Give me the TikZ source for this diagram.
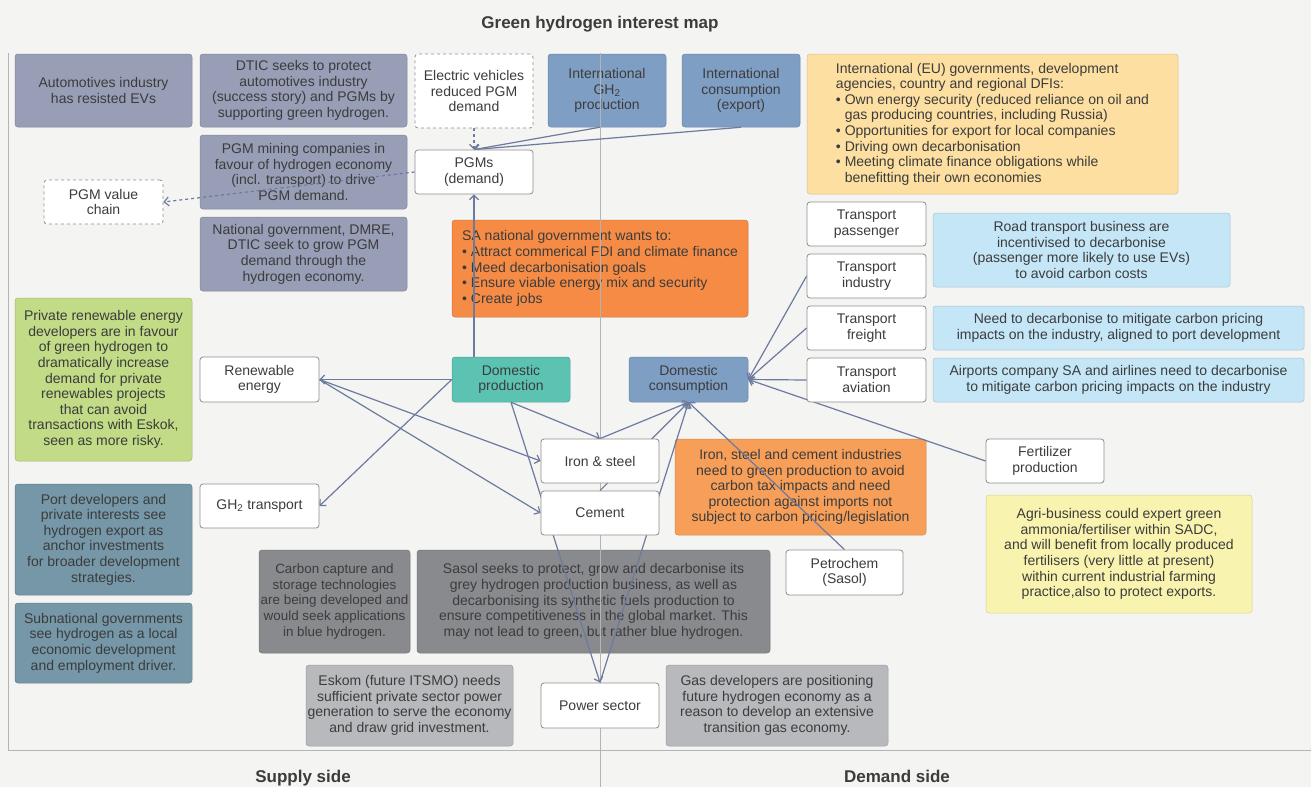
\documentclass[tikz,border=0pt]{standalone}
\usepackage{fontspec}
\setmainfont{Liberation Sans}
\usepackage{tikz}
\usetikzlibrary{arrows.meta}

\definecolor{bgcol}{HTML}{F4F4F2}
\definecolor{txt}{HTML}{3C3C3C}
\definecolor{edge}{HTML}{8E8E8E}
\definecolor{framecol}{HTML}{B4B4B4}
\definecolor{linkcol}{HTML}{6C7A9D}
\definecolor{pgmcol}{HTML}{989EB6}
\definecolor{intlcol}{HTML}{7F9EC3}
\definecolor{eucol}{HTML}{FDDFA1}
\definecolor{govcol}{HTML}{F58B45}
\definecolor{roadcol}{HTML}{C4E6F7}
\definecolor{greencol}{HTML}{C1DB86}
\definecolor{tealcol}{HTML}{5CC3B3}
\definecolor{indcol}{HTML}{F79F59}
\definecolor{agricol}{HTML}{F8F4AF}
\definecolor{portcol}{HTML}{7597A7}
\definecolor{darkgrey}{HTML}{898A8E}
\definecolor{lightgrey}{HTML}{B8B9BD}

\newcommand{\boxfont}{\fontsize{14}{15.6}\selectfont}
\newcommand{\smallboxfont}{\fontsize{13.4}{15.6}\selectfont}
\newcommand{\headfont}{\fontsize{17}{20}\selectfont\bfseries}

\pgfdeclarelayer{front}
\pgfsetlayers{main,front}

\begin{document}
\begin{tikzpicture}[x=1pt,y=-1pt,>={Straight Barb[length=4.5pt,width=9pt]},
    box/.style={rectangle,rounded corners=3pt,align=center,inner sep=1pt,text=txt,font=\boxfont},
    sz/.style 2 args={minimum width=#1pt,minimum height=#2pt},
    wbox/.style={box,fill=white,draw=edge,line width=0.8pt},
    dashbox/.style={box,fill=white,draw=edge,line width=0.8pt,dashed},
    fillbox/.style={box,fill=#1,draw=#1!85!black,line width=0.5pt},
    frame/.style={draw=framecol,line width=0.8pt},
    head/.style={font=\headfont,text=txt,anchor=base},
    link/.style={->,draw=linkcol,line width=1.2pt}]

    \useasboundingbox (0,0) rectangle (1311,787);
    \fill[bgcol] (0,0) rectangle (1311,787);

    \node[head] (title) at (600,28) {Green hydrogen interest map};
    \node[head] (supply) at (303,782) {Supply side};
    \node[head] (demand) at (897,782) {Demand side};

    % PGM stakeholders
    \node[fillbox=pgmcol,sz={177}{73}] (auto) at (103.5,90.5) {Automotives industry\\has resisted EVs};
    \node[fillbox=pgmcol,sz={207}{73}] (dtic) at (303.5,90.5) {DTIC seeks to protect\\automotives industry\\(success story) and PGMs by\\supporting green hydrogen.};
    \node[fillbox=pgmcol,sz={207}{74}] (pgmmine) at (303.5,172) {PGM mining companies in\\favour of hydrogen economy\\(incl. transport) to drive\\PGM demand.};
    \node[fillbox=pgmcol,sz={207}{74}] (natgov) at (303.5,254) {National government, DMRE,\\DTIC seek to grow PGM\\demand through the\\hydrogen economy.};

    % international
    \node[fillbox=intlcol,sz={118}{73}] (intgh) at (607,90.5) {International\\GH\textsubscript{2}\\production};
    \node[fillbox=intlcol,sz={118}{73}] (intcons) at (741,90.5) {International\\consumption\\(export)};
    \node[fillbox=eucol,sz={371}{140},align=left] (eu) at (992.5,124) {International (EU) governments, development\\agencies, country and regional DFIs:\\• Own energy security (reduced reliance on oil and\\\phantom{• }gas producing countries, including Russia)\\• Opportunities for export for local companies\\• Driving own decarbonisation\\• Meeting climate finance obligations while\\\phantom{• }benefitting their own economies};
    \node[fillbox=govcol,sz={296}{97},align=left] (sagov) at (600,268.5) {SA national government wants to:\\• Attract commerical FDI and climate finance\\• Meed decarbonisation goals\\• Ensure viable energy mix and security\\• Create jobs};

    % transport notes
    \node[fillbox=roadcol,sz={297}{74}] (road) at (1081.5,250) {Road transport business are\\incentivised to decarbonise\\(passenger more likely to use EVs)\\to avoid carbon costs};
    \node[fillbox=roadcol,sz={371}{44}] (freightnote) at (1118.5,328) {Need to decarbonise to mitigate carbon pricing\\impacts on the industry, aligned to port development};
    \node[fillbox=roadcol,sz={371}{44}] (airnote) at (1118.5,380) {Airports company SA and airlines need to decarbonise\\to mitigate carbon pricing impacts on the industry};

    % supply side notes
    \node[fillbox=greencol,sz={177}{163}] (privren) at (103.5,379.5) {Private renewable energy\\developers are in favour\\of green hydrogen to\\dramatically increase\\demand for private\\renewables projects\\that can avoid\\transactions with Eskok,\\seen as more risky.};
    \node[fillbox=portcol,sz={177}{111}] (port) at (103.5,539.5) {Port developers and\\private interests see\\hydrogen export as\\anchor investments\\for broader development\\strategies.};
    \node[fillbox=portcol,sz={177}{80}] (subnat) at (103.5,643) {Subnational governments\\see hydrogen as a local\\economic development\\and employment driver.};

    % hubs
    \node[fillbox=tealcol,sz={118}{45}] (prod) at (511,379.5) {Domestic\\production};
    \node[fillbox=intlcol,sz={119}{45}] (cons) at (688.5,379.5) {Domestic\\consumption};

    % industry notes
    \node[fillbox=indcol,sz={251}{96}] (isc) at (800.5,487) {Iron, steel and cement industries\\need to green production to avoid\\carbon tax impacts and need\\protection against imports not\\subject to carbon pricing/legislation};
    \node[fillbox=agricol,sz={266}{118}] (agri) at (1119,554) {Agri-business could expert green\\ammonia/fertiliser within SADC,\\and will benefit from locally produced\\fertilisers (very little at present)\\within current industrial farming\\practice,also to protect exports.};
    \node[fillbox=darkgrey,sz={151}{103},inner sep=0pt,font=\smallboxfont] (ccs) at (334.5,601.5) {Carbon capture and\\storage technologies\\are being developed and\\would seek applications\\in blue hydrogen.};
    \node[fillbox=darkgrey,sz={353}{103}] (sasol) at (593.5,601.5) {Sasol seeks to protect, grow and decarbonise its\\grey hydrogen production business, as well as\\decarbonising its synthetic fuels production to\\ensure competitiveness in the global market. This\\may not lead to green, but rather blue hydrogen.};
    \node[fillbox=lightgrey,sz={207}{81}] (eskom) at (409.5,705.5) {Eskom (future ITSMO) needs\\sufficient private sector power\\generation to serve the economy\\and draw grid investment.};
    \node[fillbox=lightgrey,sz={222}{81}] (gas) at (777,705.5) {Gas developers are positioning\\future hydrogen economy as a\\reason to develop an extensive\\transition gas economy.};

    % frame
    \draw[frame] (8,53) -- (8,750) -- (1311,750);
    \draw[frame] (600,53) -- (600,787);

    % sectors
    \begin{pgfonlayer}{front}
    \node[dashbox,sz={118}{74}] (evs) at (474,91) {Electric vehicles\\reduced PGM\\demand};
    \node[wbox,sz={118}{44}] (pgms) at (474,172) {PGMs\\(demand)};
    \node[dashbox,sz={119}{44}] (pgmval) at (103.5,202) {PGM value\\chain};
    \node[wbox,sz={119}{44}] (tpass) at (866.5,224) {Transport\\passenger};
    \node[wbox,sz={119}{44}] (tind) at (866.5,276) {Transport\\industry};
    \node[wbox,sz={119}{44}] (tfre) at (866.5,328) {Transport\\freight};
    \node[wbox,sz={119}{44}] (tavi) at (866.5,380) {Transport\\aviation};
    \node[wbox,sz={119}{45}] (ren) at (259.5,379.5) {Renewable\\energy};
    \node[wbox,sz={119}{44}] (gh2t) at (259.5,506) {GH\textsubscript{2} transport};
    \node[wbox,sz={118}{44}] (iron) at (600,461) {Iron \& steel};
    \node[wbox,sz={118}{44}] (cement) at (600,513) {Cement};
    \node[wbox,sz={118}{44}] (fert) at (1045,461) {Fertilizer\\production};
    \node[wbox,sz={117}{45}] (petro) at (844.5,572.5) {Petrochem\\(Sasol)};
    \node[wbox,sz={118}{45}] (power) at (600,705.5) {Power sector};
    \end{pgfonlayer}

    % links
    \draw[link,dashed] (evs.south) -- (pgms.north);
    \draw[link] ([xshift=-7pt]intgh.south) -- (pgms.north);
    \draw[link] (intcons.south) -- (pgms.north);
    \draw[link,dashed] (pgms.west) -- (pgmval.east);
    \draw[link] (pgms.south |- prod.north) -- (pgms.south);
    \draw[link] (prod.west) -- (ren.east);
    \draw[link] (prod.west) -- (gh2t.east);
    \draw[link] (ren.east) -- (iron.west);
    \draw[link] (ren.east) -- (cement.west);
    \draw[link] (prod.south) -- (iron.north);
    \draw[link] (prod.south) -- (power.north);
    \foreach \src in {iron,cement,power,petro}
        \draw[link] (\src.north) -- (cons.south);
    \foreach \src in {tind,tfre,tavi,fert}
        \draw[link] (\src.west) -- (cons.east);
\end{tikzpicture}
\end{document}
